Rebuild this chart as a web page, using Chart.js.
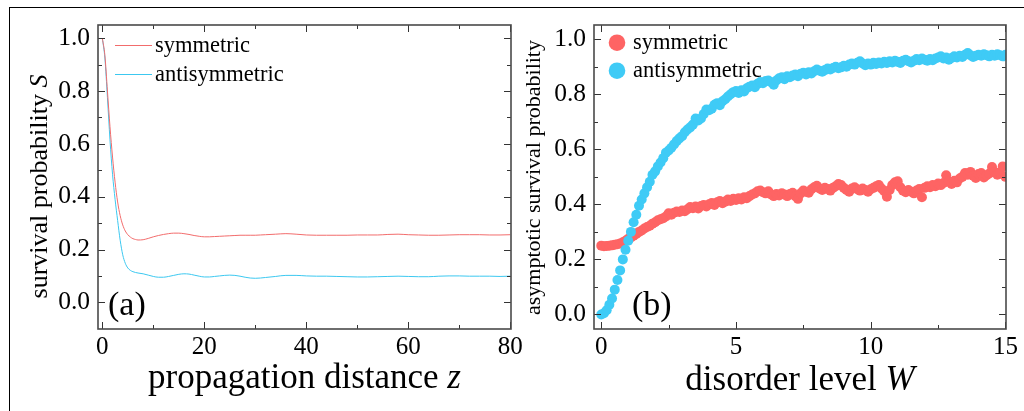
<!DOCTYPE html>
<html><head><meta charset="utf-8">
<script src="https://cdn.jsdelivr.net/npm/chart.js@4.4.1/dist/chart.umd.min.js"></script>
<style>
html,body{margin:0;padding:0;background:#fff;width:1024px;height:411px;overflow:hidden;}
#frame{position:absolute;left:9px;top:7px;width:1015px;height:404px;border-left:1px solid #000;border-top:1px solid #000;box-sizing:border-box;}
#cA{position:absolute;left:0;top:0;}
#cB{position:absolute;left:512px;top:0;}
</style></head><body>
<div id="frame"></div>
<canvas id="cA" width="540" height="411"></canvas>
<canvas id="cB" width="512" height="411"></canvas>
<script>
// ---------- panel (a): survival probability vs propagation distance ----------
const Z = [0,0.5,1,1.5,2,2.5,3,3.5,4,4.5,5,5.5,6,6.5,7,
  8,9,10,11,12,13,14,15,16,17,18,19,20,21,22,23,24,25,26,27,28,29,30,31,32,
  34,36,38,40,42,44,46,48,50,52,54,56,58,60,62,64,66,68,70,72,74,76,78,80];
const S_SYM = [1.0,0.935,0.80,0.665,0.55,0.455,0.38,0.328,0.293,0.27,0.256,0.247,0.241,0.238,0.236,
  0.237,0.242,0.248,0.253,0.257,0.26,0.262,0.262,0.26,0.257,0.253,0.25,0.248,0.248,0.249,0.25,0.251,0.252,0.253,0.254,0.254,0.254,0.254,0.255,0.256,
  0.258,0.260,0.258,0.255,0.254,0.254,0.254,0.254,0.255,0.255,0.255,0.257,0.258,0.256,0.255,0.254,0.254,0.255,0.256,0.256,0.256,0.255,0.255,0.256];
const S_ANTI = [1.0,0.925,0.775,0.615,0.485,0.39,0.31,0.235,0.18,0.148,0.13,0.121,0.116,0.113,0.111,
  0.108,0.103,0.098,0.095,0.095,0.098,0.102,0.106,0.108,0.107,0.103,0.099,0.096,0.096,0.098,0.100,0.102,0.103,0.102,0.099,0.095,0.092,0.091,0.092,0.094,
  0.098,0.102,0.102,0.100,0.099,0.099,0.098,0.097,0.096,0.096,0.097,0.098,0.099,0.098,0.097,0.097,0.099,0.100,0.100,0.099,0.099,0.099,0.098,0.099];

// ---------- panel (b): asymptotic survival probability vs disorder level ----------
const W_STEP = 0.1, W_COUNT = 151;
const W = Array.from({length: W_COUNT}, (_, i) => +(i * W_STEP).toFixed(1));
const P_SYM = [
  0.250,0.248,0.249,0.250,0.251,0.253,0.255,0.258,0.262,0.268,
  0.275,0.280,0.286,0.292,0.300,0.305,0.312,0.318,0.322,0.330,
  0.335,0.342,0.346,0.350,0.356,0.368,0.362,0.370,0.374,0.372,
  0.378,0.375,0.382,0.390,0.386,0.392,0.385,0.394,0.398,0.392,
  0.400,0.405,0.398,0.408,0.412,0.404,0.410,0.418,0.412,0.420,
  0.416,0.422,0.418,0.426,0.422,0.430,0.436,0.440,0.448,0.450,
  0.444,0.440,0.448,0.436,0.430,0.438,0.432,0.440,0.436,0.430,
  0.438,0.442,0.430,0.420,0.440,0.450,0.446,0.442,0.455,0.462,
  0.468,0.458,0.452,0.460,0.456,0.450,0.460,0.466,0.474,0.470,
  0.460,0.452,0.446,0.458,0.462,0.455,0.450,0.458,0.452,0.446,
  0.455,0.460,0.466,0.470,0.458,0.448,0.428,0.452,0.470,0.480,
  0.484,0.462,0.450,0.444,0.452,0.446,0.440,0.450,0.456,0.426,
  0.460,0.466,0.462,0.470,0.466,0.476,0.470,0.478,0.506,0.482,
  0.474,0.486,0.480,0.494,0.500,0.514,0.508,0.518,0.504,0.496,
  0.510,0.514,0.498,0.506,0.512,0.536,0.518,0.508,0.516,0.538,
  0.500];
const P_ANTI = [
  0.000,0.004,0.015,0.035,0.058,0.090,0.125,0.160,0.200,0.235,
  0.268,0.300,0.335,0.362,0.395,0.418,0.440,0.462,0.482,0.508,
  0.520,0.538,0.552,0.568,0.588,0.596,0.606,0.618,0.630,0.640,
  0.648,0.662,0.672,0.680,0.690,0.712,0.705,0.712,0.728,0.745,
  0.742,0.748,0.762,0.768,0.760,0.775,0.782,0.792,0.800,0.808,
  0.812,0.805,0.815,0.810,0.822,0.828,0.832,0.826,0.838,0.845,
  0.840,0.848,0.850,0.844,0.835,0.850,0.858,0.862,0.855,0.866,
  0.862,0.868,0.872,0.866,0.875,0.878,0.872,0.880,0.876,0.884,
  0.890,0.886,0.882,0.888,0.894,0.890,0.896,0.900,0.895,0.898,
  0.904,0.900,0.908,0.912,0.908,0.915,0.920,0.912,0.906,0.912,
  0.908,0.915,0.910,0.916,0.912,0.918,0.914,0.920,0.916,0.922,
  0.918,0.914,0.922,0.926,0.920,0.916,0.922,0.928,0.924,0.930,
  0.926,0.922,0.928,0.924,0.930,0.934,0.938,0.930,0.934,0.926,
  0.932,0.938,0.934,0.940,0.936,0.944,0.950,0.942,0.936,0.940,
  0.944,0.940,0.946,0.942,0.938,0.944,0.940,0.946,0.942,0.938,
  0.944];

// ---------- ticks & labels ----------
const A_X_TICKS = [0,20,40,60,80];
const A_X_MINOR = [10,30,50,70];
const B_X_TICKS = [0,5,10,15];
const B_X_MINOR = [2.5,7.5,12.5];
const Y_TICKS = [0,0.2,0.4,0.6,0.8,1.0];
const Y_MINOR = [0.1,0.3,0.5,0.7,0.9];
const SERIES = ['symmetric','antisymmetric'];

const FONT = "'Liberation Serif','Times New Roman',serif";
const RED_LINE = '#f26c6c', CYAN_LINE = '#3cc8f0';
const RED_DOT = '#fe6464', CYAN_DOT = '#3fcbf6';

function mkScales(xr, yr, xt, yw) {
  return {
    x: {type:'linear', min:xr[0], max:xr[1],
      grid:{display:false, drawTicks:false}, border:{display:false},
      afterBuildTicks: s => { s.ticks = xt.map(v => ({value:v})); },
      afterFit: s => { s.height = 82; },
      ticks:{padding:3, color:'#000', font:{family:FONT, size:25}, maxRotation:0, autoSkip:false,
        callback: v => String(v)}},
    y: {type:'linear', min:yr[0], max:yr[1],
      grid:{display:false, drawTicks:false}, border:{display:false},
      afterBuildTicks: s => { s.ticks = Y_TICKS.map(v => ({value:v})); },
      afterFit: s => { s.width = yw; },
      ticks:{padding:8, color:'#000', font:{family:FONT, size:25.5}, autoSkip:false,
        callback: v => (Math.abs(v) < 1e-9 ? 0 : v).toFixed(1)}}
  };
}

function mixedWidth(ctx, parts) {
  let w = 0;
  parts.forEach(p => { ctx.font = p[1]; w += ctx.measureText(p[0]).width; });
  return w;
}
function drawMixed(ctx, parts, x, y) { // centered at x, baseline y
  const w = mixedWidth(ctx, parts);
  let cx = x - w / 2;
  ctx.textAlign = 'left'; ctx.textBaseline = 'alphabetic';
  parts.forEach(p => { ctx.font = p[1]; ctx.fillText(p[0], cx, y); cx += ctx.measureText(p[0]).width; });
}

function makeDeco(cfg) {
  return {
    id: 'deco',
    afterDatasetsDraw(chart) {
      const {ctx, chartArea: a, scales: {x, y}} = chart;
      ctx.save();
      ctx.strokeStyle = '#333'; ctx.lineWidth = 1;
      const seg = (x1, y1, x2, y2) => { ctx.beginPath(); ctx.moveTo(x1, y1); ctx.lineTo(x2, y2); ctx.stroke(); };
      const xt = (v, len) => { const p = Math.round(x.getPixelForValue(v)) + 0.5; seg(p, a.bottom, p, a.bottom - len); seg(p, a.top, p, a.top + len); };
      const yt = (v, len) => { const p = Math.round(y.getPixelForValue(v)) + 0.5; seg(a.left, p, a.left + len, p); seg(a.right, p, a.right - len, p); };
      cfg.xMajor.forEach(v => xt(v, 7)); cfg.xMinor.forEach(v => xt(v, 4));
      Y_TICKS.forEach(v => yt(v, 7)); Y_MINOR.forEach(v => yt(v, 4));
      ctx.strokeStyle = '#4a4a4a'; ctx.lineWidth = 1.6;
      ctx.strokeRect(a.left, a.top, a.right - a.left, a.bottom - a.top);
      ctx.restore();
    },
    afterDraw(chart) {
      const {ctx, chartArea: a} = chart;
      ctx.save();
      ctx.fillStyle = '#000';
      // legend
      const colors = cfg.legendColors;
      SERIES.forEach((name, i) => {
        const ly = a.top + cfg.legY[i];
        if (cfg.legendType === 'line') {
          ctx.strokeStyle = colors[i]; ctx.lineWidth = 1;
          ctx.beginPath(); ctx.moveTo(a.left + 17, ly + 0.5); ctx.lineTo(a.left + 54, ly + 0.5); ctx.stroke();
        } else {
          ctx.fillStyle = colors[i];
          ctx.beginPath(); ctx.arc(a.left + 23, ly, 8.3, 0, Math.PI * 2); ctx.fill();
        }
        ctx.fillStyle = '#000';
        ctx.font = '22.5px ' + FONT; ctx.textAlign = 'left'; ctx.textBaseline = 'alphabetic';
        ctx.fillText(name, a.left + cfg.legTextX, ly + cfg.legBase);
      });
      // panel label
      ctx.font = '34px ' + FONT; ctx.textAlign = 'left'; ctx.textBaseline = 'alphabetic';
      ctx.fillText(cfg.panel, a.left + cfg.panelX, a.bottom - 14);
      // x title
      drawMixed(ctx, cfg.xTitle, (a.left + a.right) / 2, cfg.xTitleY);
      // y title
      ctx.save();
      ctx.translate(cfg.yTitleX, cfg.yTitleY);
      ctx.rotate(-Math.PI / 2);
      drawMixed(ctx, cfg.yTitle, 0, 0);
      ctx.restore();
      ctx.restore();
    }
  };
}

Chart.defaults.font.family = FONT;

new Chart(document.getElementById('cA'), {
  type: 'line',
  data: { datasets: [
    {label: SERIES[0], data: Z.map((z, i) => ({x: z, y: S_SYM[i]})), borderColor: RED_LINE, borderWidth: 1,
      pointRadius: 0, cubicInterpolationMode: 'monotone', fill: false},
    {label: SERIES[1], data: Z.map((z, i) => ({x: z, y: S_ANTI[i]})), borderColor: CYAN_LINE, borderWidth: 1,
      pointRadius: 0, cubicInterpolationMode: 'monotone', fill: false}
  ]},
  options: {
    responsive: false, animation: false, devicePixelRatio: 1,
    layout: {padding: {top: 25, right: 29, left: 0, bottom: 0}},
    plugins: {legend: {display: false}, tooltip: {enabled: false}},
    scales: mkScales([-0.85, 80.15], [-0.101, 1.05], A_X_TICKS, 98)
  },
  plugins: [makeDeco({
    xMajor: A_X_TICKS, xMinor: A_X_MINOR, legendType: 'line', legendColors: [RED_LINE, CYAN_LINE],
    legY: [20, 49], legTextX: 57, legBase: 7, panel: '(a)', panelX: 10,
    xTitle: [['propagation distance ', '35px ' + FONT], ['z', 'italic 35px ' + FONT]], xTitleY: 388,
    yTitle: [['survival probability ', '26px ' + FONT], ['S', 'italic 26px ' + FONT]], yTitleX: 47, yTitleY: 186.5
  })]
});

new Chart(document.getElementById('cB'), {
  type: 'scatter',
  data: { datasets: [
    {label: SERIES[0], data: W.map((w, i) => ({x: w, y: P_SYM[i]})), backgroundColor: RED_DOT, borderWidth: 0,
      pointRadius: 5, order: 2},
    {label: SERIES[1], data: W.map((w, i) => ({x: w, y: P_ANTI[i]})), backgroundColor: CYAN_DOT, borderWidth: 0,
      pointRadius: 5, order: 1}
  ]},
  options: {
    responsive: false, animation: false, devicePixelRatio: 1,
    layout: {padding: {top: 25, right: 18, left: 0, bottom: 0}},
    plugins: {legend: {display: false}, tooltip: {enabled: false}},
    scales: mkScales([-0.27, 15.02], [-0.053, 1.052], B_X_TICKS, 82)
  },
  plugins: [makeDeco({
    xMajor: B_X_TICKS, xMinor: B_X_MINOR, legendType: 'dot', legendColors: [RED_DOT, CYAN_DOT],
    legY: [17.7, 45.7], legTextX: 39, legBase: 6, panel: '(b)', panelX: 38,
    xTitle: [['disorder level ', '35px ' + FONT], ['W', 'italic 35px ' + FONT]], xTitleY: 390,
    yTitle: [['asymptotic survival probability', '22px ' + FONT]], yTitleX: 28, yTitleY: 177.5
  })]
});
</script>
</body></html>
